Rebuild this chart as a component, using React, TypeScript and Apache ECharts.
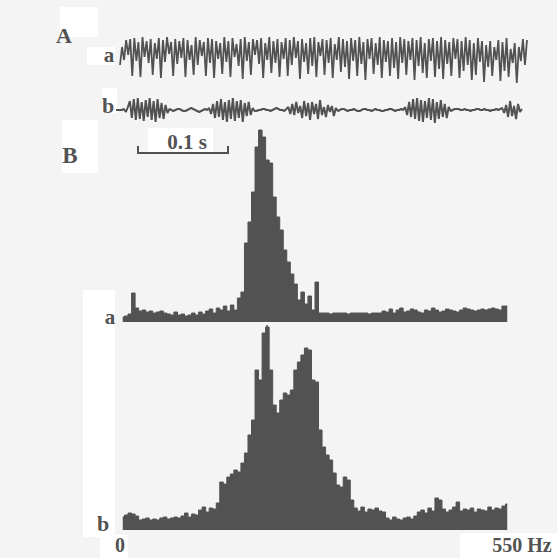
import React, { useEffect, useRef } from "react";
import * as echarts from "echarts";

// Panel A: raw recordings (offsets from trace centre, arbitrary units)
const traceA = [
  -8, 10, -3, 17, 2, 18, -19, 19, -4, 15, -20, 20, 0, 16, -6, 18, -18, 14, -2, 19,
  -21, 17, -5, 20, 3, 15, -19, 18, -7, 16, -1, 19, -20, 17, -3, 12, -18, 20, -8, 17,
  1, 15, -19, 19, -6, 18, -21, 16, -2, 14, -17, 20, -5, 16, -20, 19, 0, 13, -9, 18,
  -22, 20, -4, 15, -18, 18, 2, 17, -7, 19, -21, 14, -3, 20, -16, 16, -6, 18, -20, 15,
  -2, 19, -19, 17, -8, 20, -1, 16, -22, 18, -5, 14, -17, 19, -9, 20, -20, 15, 1, 18,
  -18, 17, -6, 19, -21, 13, -3, 20, -15, 18, -10, 16, -22, 19, -4, 17, -19, 20, -7, 15,
  -23, 18, -2, 19, -17, 14, -8, 20, -21, 17, -5, 16, -19, 19, -11, 15, -22, 20, -6, 18,
  -18, 16, -3, 19, -23, 17, -9, 20, -16, 14, -21, 18, -4, 19, -20, 16, -12, 20, -22, 17,
  -7, 15, -19, 19, -2, 18, -21, 16, -14, 20, -8, 17, -23, 14, -18, 19, -5, 16, -25, 12,
  -10, 16, -19, 10, -3, 17, -24, 15, -14, 19, -20, 8, -6, 14, -26, 10, -4, 18, -8, 17,
];

const traceB = [
  0, 0, 0, 0, 1, -2, 3,
  9, -8, 11, -10, 12, -9, 8, -11, 10, -7, 12, -10, 9, -12, 11, -8, 7, -9, 5, -3,
  1, 0, -1, 0, 1, 1, 0, -1, -1, 0, 1, 2, 1, 0, -1, -2, -1, 0, 1, 0, 2,
  -4, 6, -8, 9, -7, 11, -10, 8, -12, 10, -9, 12, -11, 9, -8, 10, -12, 7, -6, 8, -5, 2,
  -1, -1, 0, 0, 1, 1, 0, 0, -1, 0, 1, 2, 1, 0, 0, -1, 1,
  3, -4, 6, -5, 8, -3, 4, -8, 9, -6, 7, -10, 8, -4, 6, -9, 10, -5, 3, -7, 5, -2, 4, -6, 2, -1,
  0, 1, 1, 0, -1, 0, 0, 1, 0, -1, -1, 0, 1, 1, 0, 0, -1, 0, 1, 0, 0, -1, -1, 0, 0, 1, 1, 0, -1, 0, 0, 1, 0,
  3, -5, 8, -7, 11, -9, 12, -11, 10, -12, 9, -8, 12, -10, 11, -13, 8, -9, 10, -7, 6, -8, 3, -1,
  0, 1, 1, 1, 0, 0, 1, 0, 0, -1, 0, 0, 1, 1, 0, 0, 1, 0, 0, -1, 0, 0, 1, 0, 1, 2,
  -3, 5, -7, 9, -6, 4, -9, 6, -2, 1,
];

// Panel B: power spectra, 5 Hz bins from 0 to 550 Hz (relative units)
const binWidthHz = 5;
const spectrumA = [
  5, 6, 8, 29, 14,
  11, 12, 10, 11, 9, 10, 11, 9,
  8, 7, 10, 7,
  8, 6, 7, 9, 7,
  10, 8, 11, 13,
  9, 14, 12, 16, 11, 17, 12, 24, 30,
  79, 100, 130, 175, 192, 185, 162, 159, 125, 105, 92, 72, 60, 48, 38, 22, 30, 18, 26, 12, 40,
  9, 9, 9, 8, 9, 9, 9, 9, 8, 9, 9, 9, 9, 9, 8, 9, 9, 9,
  11, 10, 13, 9, 12, 14, 10, 11, 13, 12, 10, 9, 12, 11, 14, 12, 10, 11, 13, 12, 11, 10, 12, 14,
  13, 12, 11, 12, 13, 12, 13, 14, 13, 12, 16, 16,
];

const spectrumB = [
  13, 15, 17, 16, 14,
  10, 11, 12, 10, 11, 10, 12, 13, 11, 12, 13, 12,
  14, 17, 13, 16, 15,
  20, 23, 18, 22, 21, 27,
  48, 46, 53, 56, 60, 58, 67, 77, 95, 110, 160, 150, 197, 203, 160, 125, 117, 130, 137, 135,
  140, 160, 168, 175, 182, 180, 150, 148, 100, 83, 75, 70, 57, 45, 43, 53, 50, 30,
  22, 19, 23, 18, 21, 20, 22, 19, 18,
  12, 10, 13, 11, 10, 12, 13, 11, 14,
  18, 20, 17, 22, 19, 32, 30, 21, 18, 20, 23, 28, 19, 21, 20, 22, 18, 21, 20, 19, 23, 20, 22, 21, 24,
  26,
];

const freqRange = [0, 550];
const freqLabels = ["0", "550 Hz"];
const scaleBarLabel = "0.1 s";

export default function App() {
  const ref = useRef<HTMLDivElement>(null);

  useEffect(() => {
    const chart = echarts.init(ref.current!, null, { renderer: "svg" });
    const ink = "#525252";
    const bins = (arr: number[]) => arr.map((v, i) => [i * binWidthHz + binWidthHz / 2, v]);

    const hidden = { show: false };
    const bare = { axisLine: hidden, axisTick: hidden, axisLabel: hidden, splitLine: hidden };
    const freqAxis = (gridIndex: number) => ({
      type: "value",
      gridIndex,
      min: freqRange[0],
      max: freqRange[1],
      ...bare,
    });
    const powerAxis = (gridIndex: number) => ({
      type: "value",
      gridIndex,
      min: 0,
      max: 220,
      ...bare,
    });
    const timeAxis = (gridIndex: number, n: number) => ({
      type: "category",
      gridIndex,
      boundaryGap: false,
      data: Array.from({ length: n }, (_, i) => i),
      ...bare,
    });
    const ampAxis = (gridIndex: number) => ({
      type: "value",
      gridIndex,
      min: -30,
      max: 30,
      ...bare,
    });

    const label = (text: string, x: number, y: number, size = 21) => ({
      type: "text",
      x,
      y,
      z: 10,
      style: {
        text,
        font: `bold ${size}px 'Liberation Serif', 'DejaVu Serif', serif`,
        fill: ink,
        textAlign: "center",
        textVerticalAlign: "middle",
      },
    });
    const patch = (x: number, y: number, width: number, height: number) => ({
      type: "rect",
      z: 0,
      shape: { x, y, width, height },
      style: { fill: "#ffffff" },
    });

    chart.setOption({
      animation: false,
      backgroundColor: "#f4f4f4",
      grid: [
        { left: 120, width: 407, top: 27, height: 60 },
        { left: 116, width: 406, top: 80, height: 60 },
        { left: 121, width: 388, top: 102, height: 220 },
        { left: 121, width: 388, top: 310, height: 220 },
      ],
      xAxis: [timeAxis(0, traceA.length), timeAxis(1, traceB.length), freqAxis(2), freqAxis(3)],
      yAxis: [ampAxis(0), ampAxis(1), powerAxis(2), powerAxis(3)],
      series: [
        {
          type: "line",
          xAxisIndex: 0,
          yAxisIndex: 0,
          data: traceA,
          symbol: "none",
          lineStyle: { color: ink, width: 1.8 },
        },
        {
          type: "line",
          xAxisIndex: 1,
          yAxisIndex: 1,
          data: traceB,
          symbol: "none",
          lineStyle: { color: ink, width: 2 },
        },
        {
          type: "line",
          xAxisIndex: 2,
          yAxisIndex: 2,
          data: bins(spectrumA),
          step: "middle",
          symbol: "none",
          lineStyle: { color: ink, width: 1 },
          areaStyle: { color: ink, opacity: 1 },
        },
        {
          type: "line",
          xAxisIndex: 3,
          yAxisIndex: 3,
          data: bins(spectrumB),
          step: "middle",
          symbol: "none",
          lineStyle: { color: ink, width: 1 },
          areaStyle: { color: ink, opacity: 1 },
        },
      ],
      graphic: [
        patch(60, 7, 38, 30),
        patch(87, 47, 28, 18),
        patch(102, 88, 15, 25),
        patch(62, 120, 36, 53),
        patch(148, 128, 65, 24),
        patch(83, 290, 32, 247),
        patch(100, 535, 28, 23),
        patch(460, 533, 97, 25),
        label("A", 64, 35, 22),
        label("a", 109, 55),
        label("b", 108, 105, 22),
        label("B", 70, 155, 23),
        label(scaleBarLabel, 187, 142),
        label("a", 110, 317),
        label("b", 103, 523, 22),
        label(freqLabels[0], 120, 545, 20),
        label(freqLabels[1], 522, 545, 20),
        {
          type: "polyline",
          z: 10,
          shape: { points: [[138, 146], [138, 153], [228, 153], [228, 146]] },
          style: { stroke: ink, lineWidth: 2, fill: null },
        },
        {
          type: "line",
          z: 10,
          shape: { x1: 267, y1: 325, x2: 267, y2: 338 },
          style: { stroke: ink, lineWidth: 1.5 },
        },
      ],
    });

    return () => chart.dispose();
  }, []);

  return (
    <div
      ref={ref}
      style={{ position: "absolute", left: 0, top: 0, width: 557, height: 558 }}
    />
  );
}
